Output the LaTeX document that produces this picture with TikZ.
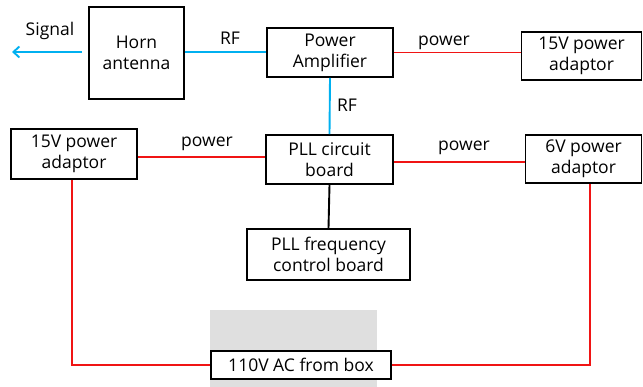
\documentclass[tikz,border=0pt]{standalone}
\usepackage{fontspec}
\setmainfont{Open Sans}
\usetikzlibrary{arrows.meta,calc}
\definecolor{rfblue}{RGB}{0,176,240}
\definecolor{pwred}{RGB}{240,20,20}
\begin{document}
\begin{tikzpicture}[x=1pt,y=-1pt,
  box/.style={draw=black,line width=1.9pt,fill=white,align=center,inner sep=0pt,font=\fontsize{17.5}{21}\selectfont},
  lbl/.style={font=\fontsize{17.5}{21}\selectfont,inner sep=0pt},
  rf/.style={draw=rfblue,line width=1.9pt},
  pw/.style={draw=pwred,line width=1.9pt},
  ctl/.style={draw=black,line width=1.9pt}]
\useasboundingbox (0,0) rectangle (643,387);
\fill[gray!25] (210,310) rectangle (377,387);
\node[box,minimum width=95pt,minimum height=92pt] (horn) at (136.5,53) {Horn\\antenna};
\node[box,minimum width=126pt,minimum height=49pt] (pa) at (330,52.5) {Power\\Amplifier};
\node[box,minimum width=120pt,minimum height=48pt] (padr) at (581.5,56) {15V power\\adaptor};
\node[box,minimum width=127pt,minimum height=49pt] (pll) at (329.5,159.5) {PLL circuit\\board};
\node[box,minimum width=126pt,minimum height=50pt] (padl) at (74,154) {15V power\\adaptor};
\node[box,minimum width=116pt,minimum height=48pt] (pad6) at (583.5,159) {6V power\\adaptor};
\node[box,minimum width=163pt,minimum height=51pt] (freq) at (328.5,254.5) {PLL frequency\\control board};
\node[box,minimum width=180pt,minimum height=28pt] (ac) at (301,365) {110V AC from box};
\coordinate (sigstart) at (82,52);
\coordinate (sigend) at (12,52);
\draw[rf,-{Straight Barb[length=6pt,width=11pt]}] (sigstart) -- (sigend);
\node[lbl] (siglbl) at (50,31) {Signal};
\draw[rf] (horn.east |- 0,52) -- (pa.west |- 0,52);
\node[lbl] (rf1) at (230,38) {RF};
\draw[rf] (pa.south) -- (pll.north);
\node[lbl] (rf2) at (347,105) {RF};
\draw[pw] (pa.east) -- (padr.west |- pa.east);
\node[lbl] (pw1) at (444,43) {power};
\draw[pw] (padl.east |- 0,157) -- (pll.west |- 0,157);
\node[lbl] (pw2) at (207,144) {power};
\draw[pw] (pll.east |- 0,162) -- (pad6.west |- 0,162);
\node[lbl] (pw3) at (464,148) {power};
\draw[ctl] (pll.south) -- (freq.north);
\draw[pw] (padl.south -| 72,0) |- (ac.west);
\draw[pw] (pad6.south -| 590,0) |- (ac.east);
\end{tikzpicture}
\end{document}
